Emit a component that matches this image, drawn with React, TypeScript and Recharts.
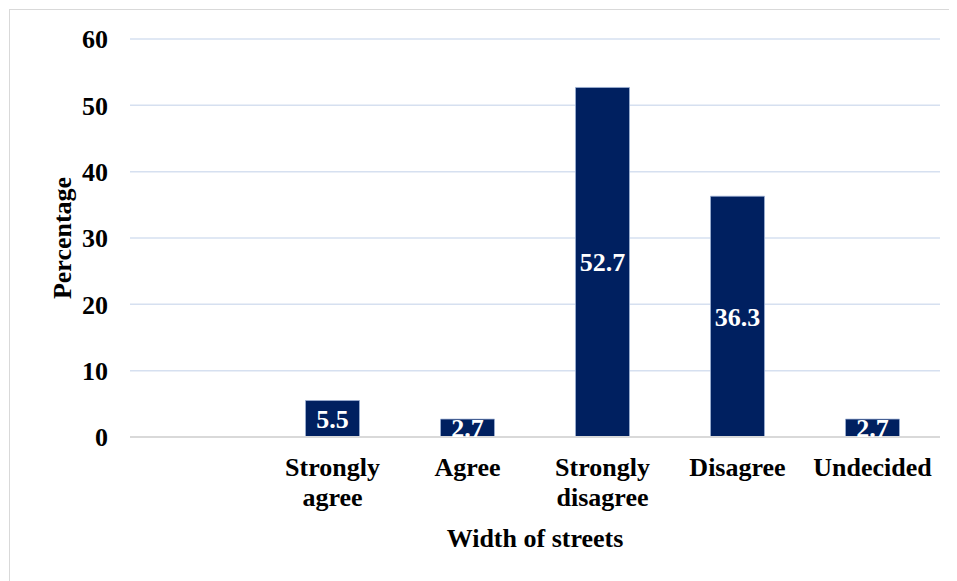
import { BarChart, Bar, XAxis, YAxis, CartesianGrid, LabelList } from "recharts";

const categories = ["", "Strongly agree", "Agree", "Strongly disagree", "Disagree", "Undecided"];
const percentages = [null, 5.5, 2.7, 52.7, 36.3, 2.7];
const yTicks = [0, 10, 20, 30, 40, 50, 60];

const data = categories.map((name, i) => ({ name, value: percentages[i] }));

const FONT = "'Liberation Serif', 'Times New Roman', serif";
const textStyle = { fontFamily: FONT, fontSize: 26, fontWeight: 700, fill: "#000" };

// long labels go on two lines, like the original
const CategoryTick = (props: any) => {
  const { x, y, payload } = props;
  const label: string = payload.value || "";
  const lines = label.length > 10 ? label.split(" ") : [label];
  return (
    <text x={x} y={y} textAnchor="middle" style={textStyle}>
      {lines.map((line, i) => (
        <tspan key={i} x={x} dy={i === 0 ? 18 : 30}>
          {line}
        </tspan>
      ))}
    </text>
  );
};

export default function App() {
  return (
    <div
      style={{
        marginLeft: 1,
        marginTop: 1,
        borderLeft: "1.5px solid #d9d9d9",
        borderTop: "1.5px solid #d9d9d9",
        width: 948,
        height: 572,
        background: "#fff",
      }}
    >
      <BarChart
        width={947}
        height={571}
        data={data}
        margin={{ top: 29, right: 17, left: 0, bottom: 0 }}
        barCategoryGap="30%"
      >
        <CartesianGrid vertical={false} stroke="#d6e0f0" strokeWidth={1.5} />
        <XAxis
          dataKey="name"
          height={144}
          tickLine={false}
          tickMargin={15}
          axisLine={{ stroke: "#d9d9d9", strokeWidth: 2 }}
          interval={0}
          tick={<CategoryTick />}
          label={{
            content: (p: any) => {
              const vb = p.viewBox;
              return (
                <text
                  x={vb.x + vb.width / 2}
                  y={528}
                  textAnchor="middle"
                  dominantBaseline="central"
                  style={textStyle}
                >
                  Width of streets
                </text>
              );
            },
          }}
        />
        <YAxis
          width={120}
          domain={[0, 60]}
          ticks={yTicks}
          tickLine={false}
          axisLine={false}
          tickMargin={16}
          tick={textStyle}
          label={{
            content: () => (
              <text
                x={52}
                y={228}
                textAnchor="middle"
                dominantBaseline="central"
                transform="rotate(-90 52 228)"
                style={textStyle}
              >
                Percentage
              </text>
            ),
          }}
        />
        <Bar dataKey="value" fill="#002060" stroke="#9fb3d6" strokeWidth={0.75} isAnimationActive={false}>
          <LabelList
            dataKey="value"
            position="center"
            style={{ ...textStyle, fill: "#fff" }}
          />
        </Bar>
      </BarChart>
    </div>
  );
}
